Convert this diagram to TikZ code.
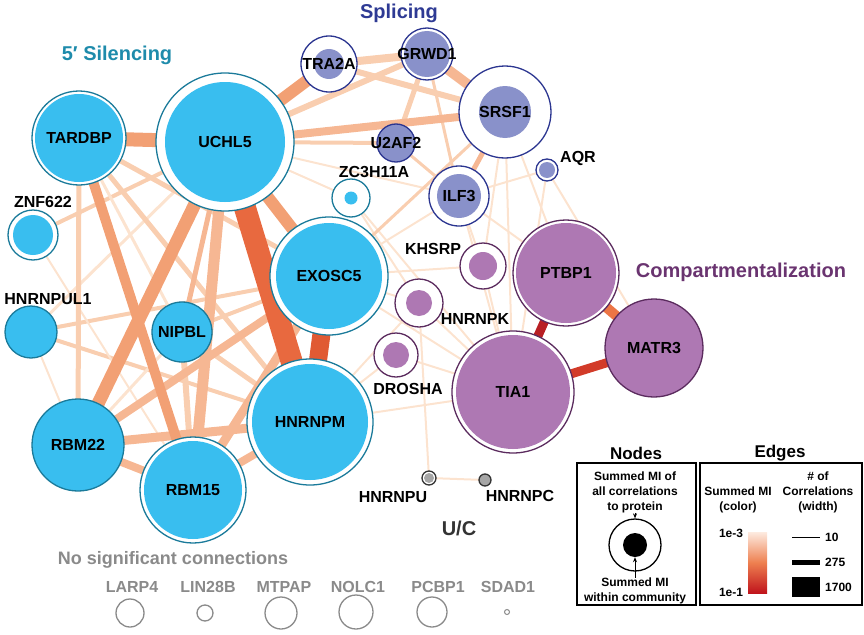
\documentclass[tikz,border=0pt]{standalone}
\usepackage{fontspec}
\setmainfont{Liberation Sans}
\usetikzlibrary{arrows.meta}
\pgfdeclarelayer{edges}
\pgfsetlayers{edges,main}
\definecolor{slLine}{HTML}{1A7A9A}
\definecolor{slFill}{HTML}{39BEEF}
\definecolor{spLine}{HTML}{2B3590}
\definecolor{spFill}{HTML}{8991CA}
\definecolor{cpLine}{HTML}{5B2B5E}
\definecolor{cpFill}{HTML}{AE78B3}
\definecolor{ucLine}{HTML}{333333}
\definecolor{ucFill}{HTML}{A6A6A6}
\definecolor{slTitle}{HTML}{1E8BAB}
\definecolor{spTitle}{HTML}{2E3A94}
\definecolor{cpTitle}{HTML}{6A3470}
\definecolor{nsGray}{HTML}{8A8A8A}
\definecolor{eA}{HTML}{FCE3CF}
\definecolor{eB}{HTML}{F9CEB0}
\definecolor{eC}{HTML}{F6B793}
\definecolor{eD}{HTML}{F2A074}
\definecolor{eF}{HTML}{E8693F}
\definecolor{eG}{HTML}{E05A33}
\definecolor{eH}{HTML}{EC7545}
\definecolor{eJ}{HTML}{D23B29}
\definecolor{eK}{HTML}{B81F24}
\definecolor{gTop}{HTML}{FDEBE0}
\definecolor{gMid}{HTML}{EE8050}
\definecolor{gBot}{HTML}{C0141C}
\newcommand\ringN[5]{%
  \node[circle, inner sep=0pt, minimum size=#3*2pt, draw=#5Line, fill=white, line width=1.3pt] (#1) at (#2) {};
  \fill[#5Fill] (#1.center) circle[radius=#4pt];}
\newcommand\solidN[4]{%
  \node[circle, inner sep=0pt, minimum size=#3*2pt, draw=#4Line, fill=#4Fill, line width=1.3pt] (#1) at (#2) {};}
\newcommand\ed[4]{\draw[line width=#3pt, #4] (#1.center) -- (#2.center);}
\tikzset{
  lbl/.style={font=\fontsize{16}{18}\selectfont\bfseries, text=black, inner sep=0pt},
  ttl/.style={font=\fontsize{20}{22}\selectfont\bfseries, inner sep=0pt},
  nsl/.style={font=\fontsize{16}{18}\selectfont\bfseries, text=nsGray, inner sep=0pt},
  nsc/.style={circle, draw=nsGray, line width=1.3pt, inner sep=0pt},
  lgt/.style={font=\fontsize{12}{15}\selectfont\bfseries, align=center, inner sep=0pt},
  lgh/.style={font=\fontsize{17}{19}\selectfont\bfseries, inner sep=0pt}
}
\begin{document}
\begin{tikzpicture}[x=1pt,y=-1pt]
\useasboundingbox (0,0) rectangle (864,634);
% ---- 5' Silencing
\ringN{TARDBP}{79,138}{47}{44}{sl}
\ringN{UCHL5}{225,142}{69}{60}{sl}
\ringN{ZNF622}{33,235}{25}{20}{sl}
\solidN{HNRNPUL1}{31,332}{26}{sl}
\solidN{NIPBL}{182,332}{30}{sl}
\solidN{RBM22}{78,445}{46}{sl}
\ringN{RBM15}{193,490}{53}{49}{sl}
\ringN{HNRNPM}{310,422}{63}{58}{sl}
\ringN{EXOSC5}{329,276}{59}{53}{sl}
\ringN{ZC3H11A}{351,198}{19}{6.5}{sl}
% ---- Splicing
\ringN{TRA2A}{329,64}{28}{15}{sp}
\ringN{GRWD1}{427,54}{26}{23}{sp}
\ringN{SRSF1}{505,112}{46}{26}{sp}
\solidN{U2AF2}{396,143}{19}{sp}
\ringN{AQR}{547,170}{11}{8}{sp}
\ringN{ILF3}{459,196}{30}{22}{sp}
% ---- Compartmentalization
\ringN{KHSRP}{483,266}{23}{14}{cp}
\ringN{HNRNPK}{419,303}{24}{13}{cp}
\ringN{DROSHA}{396,355}{22}{13}{cp}
\ringN{PTBP1}{566,273}{53}{50}{cp}
\ringN{TIA1}{513,392}{61}{57}{cp}
\solidN{MATR3}{654,348}{49}{cp}
% ---- U/C
\ringN{HNRNPU}{429,478}{7}{5}{uc}
\solidN{HNRNPC}{485,480}{6}{uc}
% ---- edges
\begin{pgfonlayer}{edges}
\ed{HNRNPUL1}{RBM22}{2}{eA}
\ed{HNRNPUL1}{EXOSC5}{4}{eB}
\ed{HNRNPUL1}{HNRNPM}{4}{eB}
\ed{HNRNPUL1}{UCHL5}{3}{eA}
\ed{ZNF622}{UCHL5}{4}{eB}
\ed{ZNF622}{RBM15}{2}{eA}
\ed{TARDBP}{RBM22}{5}{eB}
\ed{TARDBP}{HNRNPM}{5}{eB}
\ed{TARDBP}{EXOSC5}{5}{eB}
\ed{TARDBP}{NIPBL}{3}{eA}
\ed{NIPBL}{UCHL5}{5}{eC}
\ed{NIPBL}{HNRNPM}{5}{eB}
\ed{NIPBL}{RBM15}{6}{eB}
\ed{NIPBL}{RBM22}{3}{eA}
\ed{NIPBL}{EXOSC5}{4}{eB}
\ed{UCHL5}{ILF3}{2}{eA}
\ed{UCHL5}{ZC3H11A}{2}{eA}
\ed{EXOSC5}{ILF3}{2}{eA}
\ed{EXOSC5}{KHSRP}{2}{eA}
\ed{EXOSC5}{HNRNPK}{2}{eA}
\ed{EXOSC5}{TIA1}{2}{eA}
\ed{HNRNPM}{DROSHA}{2}{eA}
\ed{HNRNPM}{TIA1}{2}{eA}
\ed{HNRNPM}{HNRNPK}{2}{eA}
\ed{ZC3H11A}{HNRNPK}{2}{eA}
\ed{ZC3H11A}{TIA1}{2}{eA}
\ed{ILF3}{KHSRP}{2}{eA}
\ed{ILF3}{TIA1}{2}{eA}
\ed{ILF3}{PTBP1}{2}{eA}
\ed{KHSRP}{TIA1}{2}{eA}
\ed{HNRNPK}{TIA1}{2}{eA}
\ed{DROSHA}{TIA1}{2}{eA}
\ed{HNRNPK}{HNRNPU}{2}{eA}
\ed{HNRNPU}{HNRNPC}{2}{eA}
\ed{AQR}{ILF3}{2}{eA}
\ed{AQR}{TIA1}{2}{eA}
\ed{AQR}{MATR3}{2}{eA}
\ed{SRSF1}{TIA1}{2}{eA}
\ed{SRSF1}{PTBP1}{2}{eA}
\ed{SRSF1}{KHSRP}{2}{eA}
\ed{U2AF2}{ILF3}{3}{eB}
\ed{EXOSC5}{SRSF1}{3}{eB}
\ed{GRWD1}{U2AF2}{5}{eB}
\ed{GRWD1}{ILF3}{3}{eB}
\ed{SRSF1}{ILF3}{5}{eC}
\ed{UCHL5}{U2AF2}{4}{eB}
\ed{UCHL5}{GRWD1}{6}{eB}
\ed{TRA2A}{GRWD1}{8}{eB}
\ed{TRA2A}{SRSF1}{6}{eB}
\ed{UCHL5}{SRSF1}{8}{eC}
\ed{GRWD1}{SRSF1}{10}{eC}
\ed{UCHL5}{TRA2A}{12}{eD}
\ed{RBM22}{EXOSC5}{8}{eC}
\ed{RBM22}{HNRNPM}{9}{eC}
\ed{RBM22}{RBM15}{8}{eC}
\ed{RBM15}{HNRNPM}{8}{eC}
\ed{RBM15}{EXOSC5}{9}{eC}
\ed{UCHL5}{RBM15}{11}{eC}
\ed{TARDBP}{RBM15}{10}{eD}
\ed{UCHL5}{RBM22}{13}{eD}
\ed{UCHL5}{EXOSC5}{12}{eD}
\ed{TARDBP}{UCHL5}{14}{eD}
\ed{UCHL5}{HNRNPM}{22}{eF}
\ed{EXOSC5}{HNRNPM}{18}{eG}
\ed{PTBP1}{MATR3}{10}{eH}
\ed{TIA1}{MATR3}{9}{eJ}
\ed{PTBP1}{TIA1}{9}{eK}
\end{pgfonlayer}
% ---- node labels
\foreach \n in {TARDBP,UCHL5,NIPBL,RBM22,RBM15,HNRNPM,EXOSC5,TRA2A,GRWD1,SRSF1,U2AF2,ILF3,PTBP1,TIA1,MATR3}
  \node[lbl] (\n-t) at (\n) {\n};
\node[lbl] (ZNF622-t) at (43,202) {ZNF622};
\node[lbl] (HNRNPUL1-t) at (48,299) {HNRNPUL1};
\node[lbl] (ZC3H11A-t) at (374,172) {ZC3H11A};
\node[lbl] (AQR-t) at (578,158) {AQR};
\node[lbl] (KHSRP-t) at (433,249) {KHSRP};
\node[lbl] (HNRNPK-t) at (475,319) {HNRNPK};
\node[lbl] (DROSHA-t) at (408,389) {DROSHA};
\node[lbl] (HNRNPU-t) at (393,497) {HNRNPU};
\node[lbl] (HNRNPC-t) at (520,496) {HNRNPC};
% ---- community titles
\node[ttl, text=slTitle] (silT) at (117,55) {5′ Silencing};
\node[ttl, text=spTitle] (spT) at (399,13) {Splicing};
\node[ttl, text=cpTitle] (cpT) at (741,272) {Compartmentalization};
\node[ttl, text=ucLine] (ucT) at (459,528) {U/C};
% ---- no significant connections
\node[font=\fontsize{18}{20}\selectfont\bfseries, text=nsGray, inner sep=0pt] (nsT) at (173,560) {No significant connections};
\node[nsl] (LARP4-t) at (132,587) {LARP4};
\node[nsl] (LIN28B-t) at (208,587) {LIN28B};
\node[nsl] (MTPAP-t) at (284,587) {MTPAP};
\node[nsl] (NOLC1-t) at (358,587) {NOLC1};
\node[nsl] (PCBP1-t) at (438,587) {PCBP1};
\node[nsl] (SDAD1-t) at (508,587) {SDAD1};
\node[nsc, minimum size=28pt] (LARP4) at (130,613) {};
\node[nsc, minimum size=16pt] (LIN28B) at (205,613) {};
\node[nsc, minimum size=32pt] (MTPAP) at (281,613) {};
\node[nsc, minimum size=34pt] (NOLC1) at (356,612) {};
\node[nsc, minimum size=30pt] (PCBP1) at (432,612) {};
\node[nsc, minimum size=5pt, line width=1pt] (SDAD1) at (507,612) {};
% ---- legend
\node[lgh] (nodesH) at (636,453) {Nodes};
\node[lgh] (edgesH) at (780,453) {Edges};
\draw[line width=1.5pt] (577,463) rectangle (696,605);
\draw[line width=1.5pt] (700,463) rectangle (862,605);
\node[lgt] (lgTop) at (635,492) {Summed MI of\\all correlations\\to protein};
\node[circle, draw=black, line width=1.3pt, minimum size=52pt, inner sep=0pt] (lgC) at (635,545) {};
\node[circle, fill=black, minimum size=24pt, inner sep=0pt] (lgIn) at (635,545) {};
\node[lgt] (lgBot) at (635,591) {Summed MI\\within community};
\draw[-{Stealth[length=5pt,width=4pt]}, line width=0.8pt] (lgTop.south) -- (lgC.north);
\draw[-{Stealth[length=5pt,width=4pt]}, line width=0.8pt] (lgBot.north) -- (lgIn.south);
\node[lgt] (colH) at (738,500) {Summed MI\\(color)};
\node[lgt] (widH) at (818,492) {\# of\\Correlations\\(width)};
\shade[top color=gTop, bottom color=gBot, middle color=gMid] (748,532) rectangle (767,593);
\node[lgt] (g1) at (731,533) {1e-3};
\node[lgt] (g2) at (731,592) {1e-1};
\coordinate (w1a) at (792,537); \coordinate (w1b) at (820,537);
\coordinate (w2a) at (792,562); \coordinate (w2b) at (820,562);
\coordinate (w3a) at (792,587); \coordinate (w3b) at (820,587);
\draw[line width=0.8pt] (w1a) -- (w1b);
\draw[line width=5pt] (w2a) -- (w2b);
\draw[line width=20pt] (w3a) -- (w3b);
\node[lgt, anchor=west] (w1t) at (825,537) {10};
\node[lgt, anchor=west] (w2t) at (825,562) {275};
\node[lgt, anchor=west] (w3t) at (825,587) {1700};
\end{tikzpicture}
\end{document}
